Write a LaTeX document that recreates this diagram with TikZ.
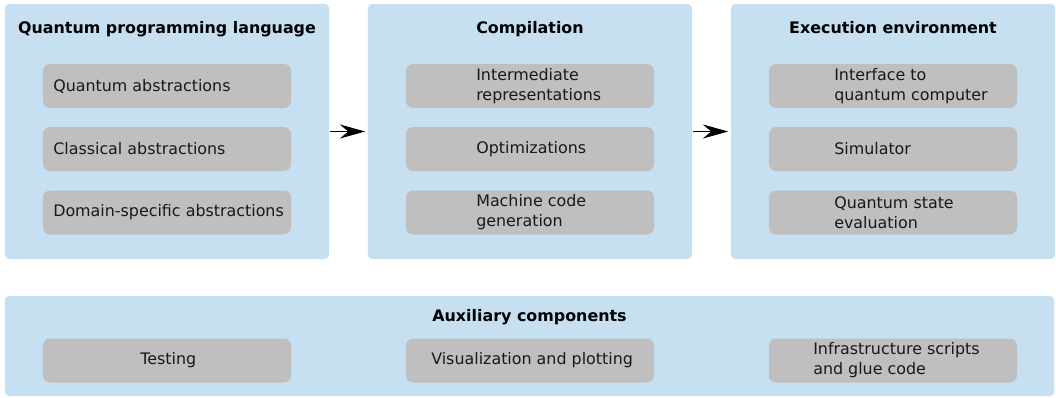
\documentclass[tikz,border=0pt]{standalone}
\usepackage{fontspec}
\setmainfont{DejaVu Sans}
\usetikzlibrary{arrows.meta}

\definecolor{panelblue}{RGB}{198,224,242}
\definecolor{boxgray}{RGB}{191,191,191}

\tikzset{
  panel/.style={fill=panelblue, rounded corners=3pt, inner sep=0pt, outer sep=0pt},
  part/.style={fill=boxgray, rounded corners=5pt, minimum width=6.2cm, minimum height=1.1cm,
               inner sep=0pt},
  partlabel/.style={anchor=west, inner sep=0pt, align=left, text=black!90,
               font=\fontsize{11.3}{14.2}\selectfont},
  title/.style={anchor=base, inner sep=0pt, font=\fontsize{11.3}{14.2}\selectfont\bfseries},
  flow/.style={-{Stealth[length=18pt,width=10pt,inset=6pt]}, line width=0.8pt}
}

\begin{document}
\begin{tikzpicture}[x=0.025cm,y=-0.025cm]
\useasboundingbox (0,0) rectangle (1056,397);

% upper panels
\node[panel, minimum width=8.1cm, minimum height=6.375cm] (lang) at (167,131.5) {};
\node[panel, minimum width=8.1cm, minimum height=6.375cm] (comp) at (530,131.5) {};
\node[panel, minimum width=8.1cm, minimum height=6.375cm] (exec) at (893,131.5) {};
% lower panel
\node[panel, minimum width=26.225cm, minimum height=2.5cm] (aux) at (529.5,346) {};

\node[title] (langT) at (167,33.5) {Quantum programming language};
\node[title] (compT) at (530,33.5) {Compilation};
\node[title] (execT) at (893,33.5) {Execution environment};
\node[title] (auxT) at (529.5,321.5) {Auxiliary components};

% boxes
\node[part] (qabs) at (167,86) {};
\node[part] (cabs) at (167,149) {};
\node[part] (dabs) at (167,212.5) {};
\node[part] (ir) at (530,86) {};
\node[part] (opt) at (530,149) {};
\node[part] (mcg) at (530,212.5) {};
\node[part] (iqc) at (893,86) {};
\node[part] (sim) at (893,149) {};
\node[part] (qse) at (893,212.5) {};
\node[part] (test) at (167,360.5) {};
\node[part] (vis) at (530,360.5) {};
\node[part] (infra) at (893,360.5) {};

% texts, left aligned like the original
\node[partlabel] (qabsL) at (53,86) {Quantum abstractions};
\node[partlabel] (cabsL) at (53,149) {Classical abstractions};
\node[partlabel] (dabsL) at (53,212.5) {Domain-specific abstractions};
\node[partlabel] (irL) at (476,86) {Intermediate\\representations};
\node[partlabel] (optL) at (476,149) {Optimizations};
\node[partlabel] (mcgL) at (476,212.5) {Machine code\\generation};
\node[partlabel] (iqcL) at (834,86) {Interface to\\quantum computer};
\node[partlabel] (simL) at (834,149) {Simulator};
\node[partlabel] (qseL) at (834,212.5) {Quantum state\\evaluation};
\node[partlabel] (testL) at (140,360.5) {Testing};
\node[partlabel] (visL) at (431,360.5) {Visualization and plotting};
\node[partlabel] (infraL) at (813,360.5) {Infrastructure scripts\\and glue code};

\draw[flow, shorten <=1pt, shorten >=2pt] (lang.east) -- (comp.west);
\draw[flow, shorten <=1pt, shorten >=2pt] (comp.east) -- (exec.west);

\end{tikzpicture}
\end{document}
